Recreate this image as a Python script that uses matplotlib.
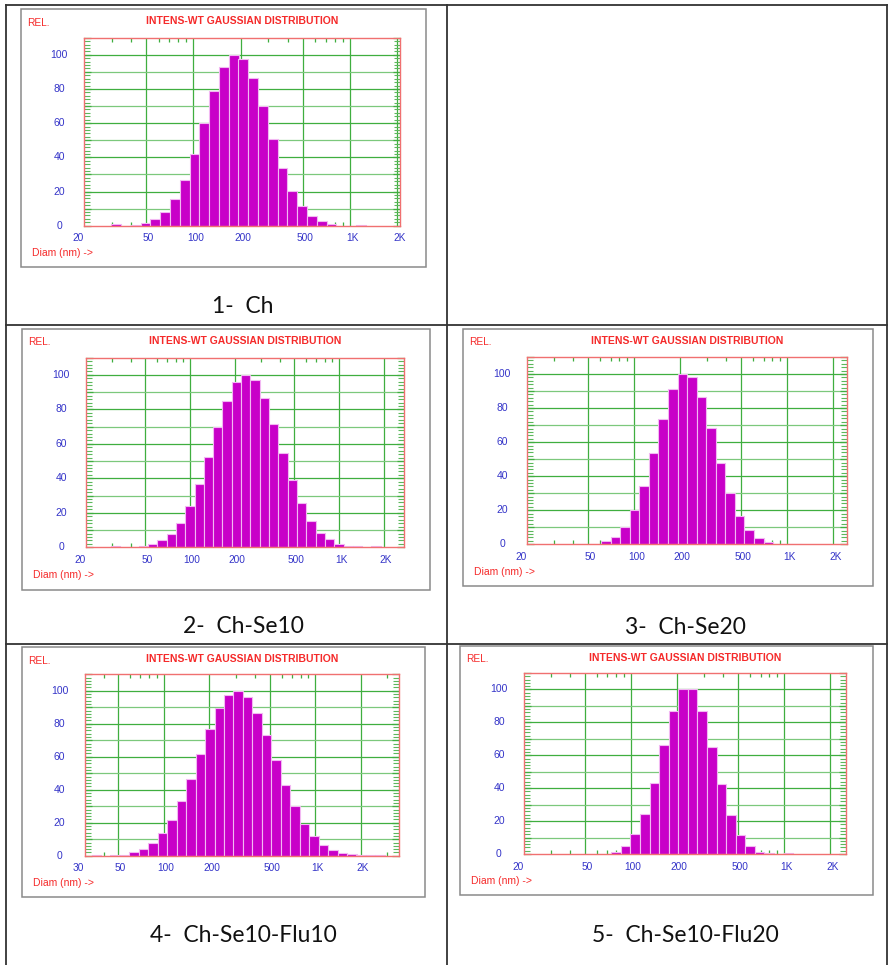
import matplotlib
matplotlib.use("Agg")
import matplotlib.pyplot as plt
from matplotlib.patches import Rectangle
from matplotlib.lines import Line2D
from matplotlib.transforms import ScaledTranslation
import numpy as np

# ---------------- data ----------------
P1_DIAM = [32.1, 37.1, 42.8, 49.4, 57.1, 65.9, 76.1, 87.9, 101.5, 117.2, 135.3, 156.3, 180.5,
           208.4, 240.7, 277.9, 320.9, 370.6, 427.9, 494.2, 570.7, 659.0, 761.0, 878.8, 1015, 1172]
P1_REL = [0.8, 0, 0.4, 1.6, 3.7, 8.2, 15.5, 26.8, 42, 60, 79, 93, 100,
          97.5, 86.5, 70, 51, 34, 20.3, 11.5, 5.5, 2.7, 1.2, 0, 0, 0.5]

P2_DIAM = [31.5, 36.3, 42.0, 48.4, 55.9, 64.6, 74.6, 86.2, 99.5, 114.9, 132.7, 153.2, 176.9, 204.3,
           236.0, 272.5, 314.7, 363.4, 419.6, 484.5, 559.5, 646.1, 746.1, 861.5, 995, 1149, 1327, 1532, 1769]
P2_REL = [0.5, 0, 0, 1, 2, 4, 8, 14.3, 24.2, 37, 52.4, 69.6, 85, 95.7,
          100, 96.9, 86.5, 71.8, 55, 39, 25.5, 15.5, 8.5, 4.6, 2, 0.8, 0.5, 0, 0.5]

P3_DIAM = [42.3, 48.9, 56.4, 65.2, 75.3, 86.9, 100.4, 115.9, 133.8, 154.6, 178.5, 206.1,
           238.1, 274.9, 317.5, 366.6, 423.3, 488.9, 564.6, 651.9, 752.9, 869.4, 1004, 1159]
P3_REL = [0.3, 0, 0.4, 2, 4.5, 10, 20, 34.5, 53.5, 73.7, 91.2, 100,
          98.4, 86.5, 68.2, 47.8, 30, 16.5, 8.2, 3.5, 1.4, 0.4, 0, 0.4]

P4_DIAM = [35.8, 41.3, 47.7, 55.1, 63.6, 73.5, 84.8, 98.0, 113.2, 130.7, 150.9, 174.3, 201.2, 232.4,
           268.4, 309.8, 357.8, 413.2, 477.1, 551.0, 636.3, 734.8, 848.5, 979.9, 1132, 1307, 1509,
           1743, 2012, 2324, 2684]
P4_REL = [0.4, 0, 0.3, 0.6, 2, 4, 7.7, 13.6, 21.7, 33, 46.6, 61.5, 76.7, 89.5,
          97.6, 100, 96.2, 86.8, 73.3, 57.9, 42.9, 30.2, 19.4, 11.7, 6.7, 3.4, 1.6,
          0.8, 0.4, 0.2, 0.5]

P5_DIAM = [51.8, 59.8, 69.0, 79.7, 92.1, 106.3, 122.8, 141.8, 163.7, 189.1, 218.3, 252.1,
           291.1, 336.2, 388.2, 448.3, 517.7, 597.8, 690.4, 797.2, 920.6, 1063]
P5_REL = [0.3, 0, 0.3, 1.4, 4.9, 12, 24.4, 43.3, 66, 87, 100, 100,
          86.8, 65.2, 42.7, 24, 11.6, 4.9, 1.4, 0.6, 0, 0.4]

X_LIMITS = [(20, 2085), (20, 2720), (20, 2470), (30, 3590), (20, 2515)]
X_TICKS_STD = [20, 50, 100, 200, 500, 1000, 2000]
X_LABELS_STD = ["20", "50", "100", "200", "500", "1K", "2K"]
X_TICKS_P4 = [30, 50, 100, 200, 500, 1000, 2000]
X_LABELS_P4 = ["30", "50", "100", "200", "500", "1K", "2K"]
Y_TICKS = [0, 20, 40, 60, 80, 100]
Y_LABELS = ["0", "20", "40", "60", "80", "100"]
CAPTIONS = ["1-  Ch", "2-  Ch-Se10", "3-  Ch-Se20", "4-  Ch-Se10-Flu10", "5-  Ch-Se10-Flu20"]
TITLE = "INTENS-WT GAUSSIAN DISTRIBUTION"

# ---------------- layout (pixels) ----------------
W, H = 888, 965
BIN_STEP = 10 ** 0.0625  # log bin ratio of the histogram

PANELS = [
    dict(box=(21, 9, 426, 267), ax=(84, 37.7, 400, 225.7), cap=(243, 306.7)),
    dict(box=(22.3, 329, 430, 590), ax=(86, 357.7, 404, 547.3), cap=(243.8, 626.7)),
    dict(box=(463.3, 329, 873.3, 586), ax=(527.3, 357, 847.3, 544.3), cap=(685.5, 628)),
    dict(box=(22, 647.3, 425.3, 896.7), ax=(84.7, 674.3, 399.3, 855.7), cap=(243.3, 935)),
    dict(box=(460, 645.7, 872.7, 895), ax=(524, 673, 845.7, 854), cap=(685, 935)),
]

DIAMS = [P1_DIAM, P2_DIAM, P3_DIAM, P4_DIAM, P5_DIAM]
RELS = [P1_REL, P2_REL, P3_REL, P4_REL, P5_REL]

RED = "#f52a2a"
BLUE = "#3434c8"
MAGENTA = "#c800c8"
GREEN_D = "#3fae3f"
GREEN_L = "#9ad69a"
SPINE = "#f07070"

CHART_FONT = ["Liberation Sans", "DejaVu Sans"]
CAP_FONT = ["Lato", "DejaVu Sans"]

fig = plt.figure(figsize=(W / 100, H / 100), dpi=100)
fig.patch.set_facecolor("white")


def fx(x):
    return x / W


def fy(y):
    return 1 - y / H


# table lines
tcol = "#333333"
for y in [5.3, 324.5, 643.5]:
    fig.add_artist(Line2D([fx(6), fx(886.5)], [fy(y), fy(y)], color=tcol, lw=1.3))
for x in [6, 446.7, 886.5]:
    fig.add_artist(Line2D([fx(x), fx(x)], [fy(5.3), fy(965)], color=tcol, lw=1.3))

for i, p in enumerate(PANELS):
    bx0, by0, bx1, by1 = p["box"]
    fig.add_artist(Rectangle((fx(bx0), fy(by1)), fx(bx1 - bx0), (by1 - by0) / H,
                             facecolor="white", edgecolor="#8a8a8a", lw=1.1, zorder=0))
    ax0, ay0, ax1, ay1 = p["ax"]
    ax = fig.add_axes([fx(ax0), fy(ay1), fx(ax1 - ax0), (ay1 - ay0) / H])
    ax.set_xscale("log")
    xmin, xmax = X_LIMITS[i]
    ax.set_xlim(xmin, xmax)
    ax.set_ylim(0, 110)

    # grid
    for v in [50, 100, 200, 500, 1000, 2000]:
        if xmin < v < xmax:
            ax.axvline(v, color=GREEN_D, lw=0.9, zorder=1)
    for v in range(10, 110, 10):
        ax.axhline(v, color=GREEN_D if v % 20 == 0 else "#7cc87c", lw=0.9, zorder=1)

    # bars
    d = np.array(DIAMS[i], dtype=float)
    left = d / np.sqrt(BIN_STEP)
    width = d * np.sqrt(BIN_STEP) - left
    ax.bar(left, RELS[i], width=width, align="edge", color=MAGENTA,
           edgecolor="#f2b8f2", linewidth=0.8, zorder=3)

    for s in ax.spines.values():
        s.set_color(SPINE)
        s.set_linewidth(1.0)
        s.set_zorder(5)

    # ticks
    ax.set_xticks([])
    ax.set_xticks([], minor=True)
    minor_x = [m * 10 ** e for e in range(1, 4) for m in [3, 4, 6, 7, 8, 9]]
    minor_x = [v for v in minor_x if xmin < v < xmax]
    ax.set_xticks(minor_x, minor=True)
    ax.tick_params(axis="x", which="minor", direction="in", length=3, width=0.9,
                   color=GREEN_D, top=True, bottom=True, labelbottom=False)
    ax.set_yticks(list(range(0, 111, 10)))
    ax.set_yticks(list(range(0, 111, 2)), minor=True)
    ax.tick_params(axis="y", which="major", direction="in", length=5, width=0.9,
                   color=GREEN_D, left=True, right=True, labelleft=False)
    ax.tick_params(axis="y", which="minor", direction="in", length=4, width=0.8,
                   color="#5cb85c", left=True, right=True)

    # y labels (manual, centered ~25 px left of the axis)
    ty = ax.get_yaxis_transform() + ScaledTranslation(-25 / 100, 0, fig.dpi_scale_trans)
    for v, lab in zip(Y_TICKS, Y_LABELS):
        ax.text(0, v, lab, transform=ty, ha="center", va="center", color=BLUE,
                fontsize=7.5, family=CHART_FONT, clip_on=False)

    # x labels
    xt = X_TICKS_P4 if i == 3 else X_TICKS_STD
    xl = X_LABELS_P4 if i == 3 else X_LABELS_STD
    for j, (v, lab) in enumerate(zip(xt, xl)):
        dx = -6 if j == 0 else 2
        tx = ax.get_xaxis_transform() + ScaledTranslation(dx / 100, -12.6 / 100, fig.dpi_scale_trans)
        ax.text(v, 0, lab, transform=tx, ha="center", va="center", color=BLUE,
                fontsize=7.3, family=CHART_FONT, clip_on=False)

    # panel texts
    fig.text(fx(bx0 + 6), fy(by0 + 13.5), "REL.", ha="left", va="center", color=RED,
             fontsize=7.3, family=CHART_FONT)
    fig.text(fx((ax0 + ax1) / 2), fy(by0 + 12), TITLE, ha="center", va="center",
             color=RED, fontsize=7.5, fontweight="bold", family=CHART_FONT)
    fig.text(fx(bx0 + 10.7), fy(ay1 + 27.3), "Diam (nm) ->", ha="left", va="center",
             color=RED, fontsize=7.5, family=CHART_FONT)

    cx, cy = p["cap"]
    fig.text(fx(cx), fy(cy), CAPTIONS[i], ha="center", va="center", color="#111111",
             fontsize=16.5, family=CAP_FONT)

fig.savefig("out.png", dpi=100, facecolor="white")
